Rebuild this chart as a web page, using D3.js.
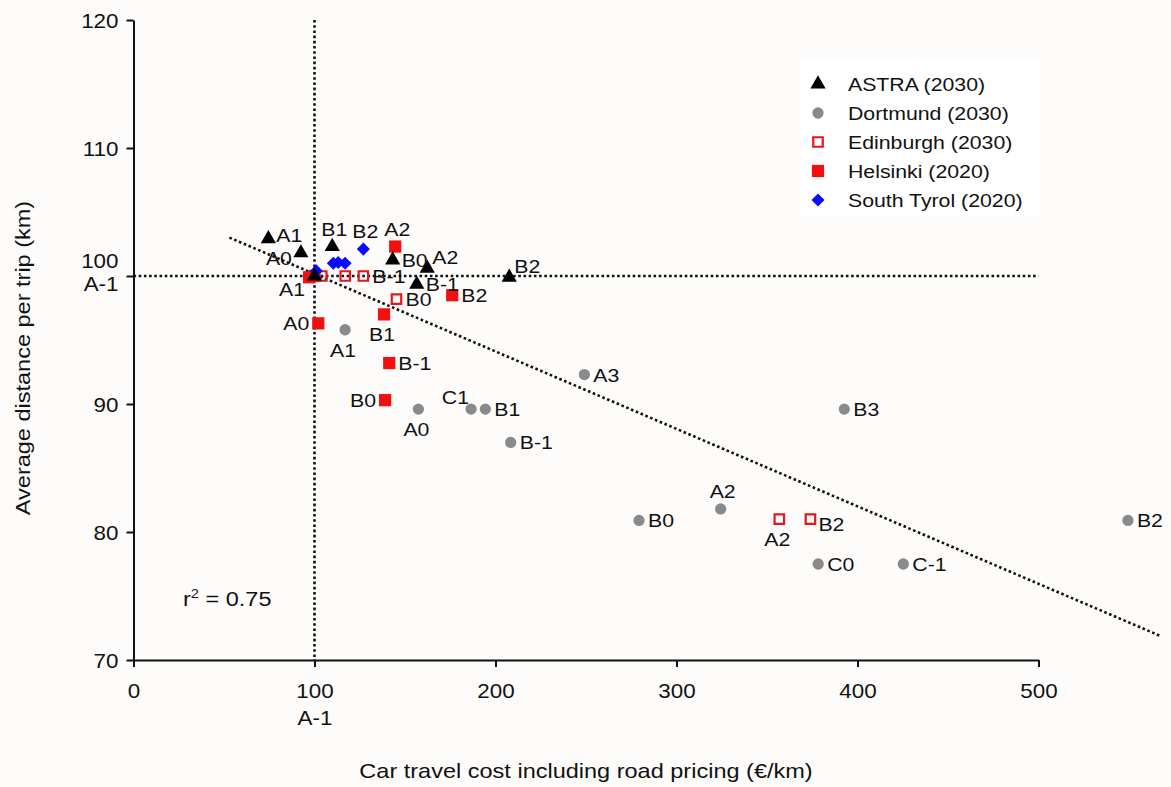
<!DOCTYPE html>
<html>
<head>
<meta charset="utf-8">
<script src="https://cdn.jsdelivr.net/npm/d3@7"></script>
<style>
  html, body { margin: 0; padding: 0; background: #fdfcfa; }
  svg { display: block; }
  text { font-family: "Liberation Sans", Arial, Helvetica, sans-serif; fill: #111; }
</style>
</head>
<body>
<svg id="chart" width="1171" height="787"></svg>
<script>
// ---- data: car travel cost (€/km) vs. average distance per trip (km), scenario codes ----
const xTicks = [0, 100, 200, 300, 400, 500];
const yTicks = [70, 80, 90, 100, 110, 120];

const astraCodes = ["A-1", "A1", "A0", "B1", "B0", "A2", "B-1", "B2"];
const astraCost  = [100, 74.5, 92.5, 109.8, 143.2, 162.3, 156.5, 207.6];
const astraDist  = [100, 102.9, 101.8, 102.3, 101.25, 100.6, 99.35, 99.9];

const dortmundCodes = ["A1", "A0", "C1", "B1", "B-1", "A3", "B3", "B0", "A2", "C0", "C-1", "B2"];
const dortmundCost  = [116.9, 157.4, 186.5, 194.4, 208.4, 249.1, 392.7, 279.3, 324.4, 378.3, 425.3, 549.4];
const dortmundDist  = [95.8, 89.6, 89.6, 89.6, 87.0, 92.3, 89.6, 80.9, 81.8, 77.5, 77.5, 80.9];

const edinburghCodes = ["", "", "B-1", "B0", "A2", "B2"];
const edinburghCost  = [104, 117, 127, 145.3, 356.8, 374.0];
const edinburghDist  = [100, 100, 100, 98.2, 81.0, 81.0];

const helsinkiCodes = ["A-1", "A1", "A0", "A2", "B2", "B1", "B-1", "B0"];
const helsinkiCost  = [100, 97, 102.1, 144.6, 176.1, 138.4, 141.3, 139.0];
const helsinkiDist  = [100, 99.9, 96.3, 102.3, 98.5, 97.0, 93.2, 90.3];

const tyrolCodes = ["A-1", "", "", "", "B2"];
const tyrolCost  = [101, 110.4, 113.1, 116.9, 127];
const tyrolDist  = [100.4, 101.0, 101.05, 101.0, 102.1];

// trend line end points and its fit
const trendCost = [53, 567];
const trendDist = [103.0, 71.9];
const rSquared = "0.75";

// where each point's code sits relative to its marker
const astraSide     = ["", "ru", "ld", "t", "r", "tr", "r", "tr"];
const dortmundSide  = ["b", "b", "tl", "r", "r", "r", "r", "r", "t", "r", "r", "r"];
const edinburghSide = ["", "", "r", "r", "b", "br"];
const helsinkiSide  = ["", "bl", "l", "t", "r", "b", "r", "l"];
const tyrolSide     = ["", "", "", "", "t"];

const series = [
  { name: "Dortmund (2030)",    codes: dortmundCodes,  cost: dortmundCost,  dist: dortmundDist,  side: dortmundSide,  shape: "circle" },
  { name: "Edinburgh (2030)",   codes: edinburghCodes, cost: edinburghCost, dist: edinburghDist, side: edinburghSide, shape: "open" },
  { name: "Helsinki (2020)",    codes: helsinkiCodes,  cost: helsinkiCost,  dist: helsinkiDist,  side: helsinkiSide,  shape: "square" },
  { name: "South Tyrol (2020)", codes: tyrolCodes,     cost: tyrolCost,     dist: tyrolDist,     side: tyrolSide,     shape: "diamond" },
  { name: "ASTRA (2030)",       codes: astraCodes,     cost: astraCost,     dist: astraDist,     side: astraSide,     shape: "triangle" }
];
const legendOrder = ["ASTRA (2030)", "Dortmund (2030)", "Edinburgh (2030)", "Helsinki (2020)", "South Tyrol (2020)"];

// ---- layout ----
const svg = d3.select("#chart");
const FONT = 19, TICK_FONT = 20, TITLE_FONT = 21, STRETCH = 1.12;
const x = d3.scaleLinear().domain([0, 500]).range([133.5, 1038.5]);
const y = d3.scaleLinear().domain([70, 120]).range([660, 20]);

function putText(g, px, py, str, anchor, size) {
  return g.append("text")
    .attr("transform", `translate(${px},${py}) scale(${STRETCH},1)`)
    .attr("text-anchor", anchor || "start")
    .style("font-size", (size || FONT) + "px")
    .text(str);
}

// marker drawing
const markerStyle = {
  triangle: { type: d3.symbolTriangle, size: 100, fill: "#000", stroke: "none", rot: 0 },
  circle:   { type: d3.symbolCircle,   size: 100, fill: "#8a8a8a", stroke: "none", rot: 0 },
  open:     { type: d3.symbolSquare,   size: 90, fill: "none", stroke: "#e8151b", rot: 0 },
  square:   { type: d3.symbolSquare,   size: 150, fill: "#f01010", stroke: "none", rot: 0 },
  diamond:  { type: d3.symbolSquare,   size: 85, fill: "#0a0aff", stroke: "none", rot: 45 }
};
function drawMarker(g, shape, px, py) {
  const m = markerStyle[shape];
  g.append("path")
    .attr("d", d3.symbol().type(m.type).size(m.size)())
    .attr("transform", `translate(${px},${py}) rotate(${m.rot})`)
    .attr("fill", m.fill)
    .attr("stroke", m.stroke)
    .attr("stroke-width", m.stroke === "none" ? 0 : 2.2);
}

// ---- axes ----
const xAxis = d3.axisBottom(x).tickValues(xTicks).tickSize(7).tickSizeOuter(0).tickFormat(() => "");
const yAxis = d3.axisLeft(y).tickValues(yTicks).tickSize(7).tickSizeOuter(0).tickFormat(() => "");

const gx = svg.append("g").attr("transform", "translate(0,660)").call(xAxis);
const gy = svg.append("g").attr("transform", "translate(133.5,0)").call(yAxis);
[gx, gy].forEach(g => {
  g.select(".domain").attr("stroke", "#111").attr("stroke-width", 2);
  g.selectAll(".tick line").attr("stroke", "#111").attr("stroke-width", 2);
});

// tick labels (100 doubles as the A-1 reference scenario)
gx.selectAll(".tick").each(function (d) {
  const t = d3.select(this);
  putText(t, 0, 38, String(d), "middle", TICK_FONT);
  if (d === 100) putText(t, 0, 65, "A-1", "middle", TICK_FONT);
});
gy.selectAll(".tick").each(function (d) {
  const t = d3.select(this);
  if (d === 100) {
    putText(t, -15, -9, "100", "end", TICK_FONT);
    putText(t, -15, 14, "A-1", "end", TICK_FONT);
  } else {
    putText(t, -15, 7, String(d), "end", TICK_FONT);
  }
});

// axis titles
putText(svg, x(250), 778, "Car travel cost including road pricing (€/km)", "middle", TITLE_FONT);
svg.append("text")
  .attr("transform", `translate(30,358) rotate(-90) scale(${STRETCH},1)`)
  .attr("text-anchor", "middle")
  .style("font-size", TITLE_FONT + "px")
  .text("Average distance per trip (km)");

// ---- reference lines through the A-1 scenario and the trend line ----
const dotted = { stroke: "#111", width: 2.6, dash: "2.6,2.6" };
svg.append("line")
  .attr("x1", x(100)).attr("x2", x(100)).attr("y1", y(120)).attr("y2", y(70))
  .attr("stroke", dotted.stroke).attr("stroke-width", dotted.width).attr("stroke-dasharray", dotted.dash);
svg.append("line")
  .attr("x1", x(0)).attr("x2", x(500)).attr("y1", y(100)).attr("y2", y(100))
  .attr("stroke", dotted.stroke).attr("stroke-width", dotted.width).attr("stroke-dasharray", dotted.dash);
svg.append("path")
  .datum(trendCost.map((c, i) => [c, trendDist[i]]))
  .attr("d", d3.line().x(d => x(d[0])).y(d => y(d[1])))
  .attr("fill", "none")
  .attr("stroke", dotted.stroke).attr("stroke-width", dotted.width).attr("stroke-dasharray", dotted.dash);

// r² annotation
const r2 = svg.append("text")
  .attr("transform", `translate(183,606) scale(${STRETCH},1)`)
  .style("font-size", TITLE_FONT + "px");
r2.append("tspan").text("r");
r2.append("tspan").attr("dy", -8).style("font-size", "13px").text("2");
r2.append("tspan").attr("dy", 8).text(" = " + rSquared);

// ---- points ----
const pts = svg.append("g");
series.forEach(s => {
  s.cost.forEach((c, i) => drawMarker(pts, s.shape, x(c), y(s.dist[i])));
});

// ---- point labels ----
const lab = svg.append("g");
const sideOffset = {
  r:  [9, 7, "start"],
  ru: [8, 3, "start"],
  l:  [-9, 7, "end"],
  ld: [-9, 12, "end"],
  t:  [2, -11, "middle"],
  b:  [-2, 27, "middle"],
  tr: [5, -4, "start"],
  tl: [-2, -5, "end"],
  bl: [-4, 19, "end"],
  br: [8, 12, "start"]
};
series.forEach(s => {
  s.codes.forEach((code, i) => {
    if (!code || !s.side[i]) return;
    const o = sideOffset[s.side[i]];
    putText(lab, x(s.cost[i]) + o[0], y(s.dist[i]) + o[1], code, o[2]);
  });
});

// ---- legend ----
const legend = svg.append("g");
legend.append("rect").attr("x", 800).attr("y", 58).attr("width", 240).attr("height", 158).attr("fill", "#ffffff");
legendOrder.forEach((name, i) => {
  const s = series.find(d => d.name === name);
  const ly = 84 + i * 29;
  drawMarker(legend, s.shape, 818, ly);
  putText(legend, 848, ly + 7, name, "start");
});
</script>
</body>
</html>
